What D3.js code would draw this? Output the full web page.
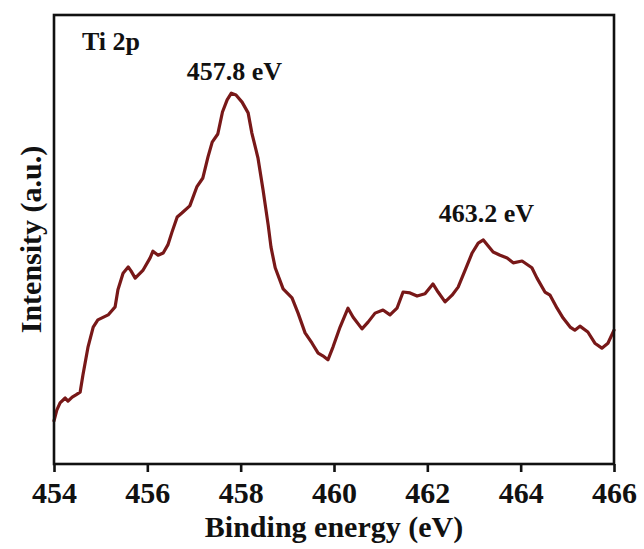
<!DOCTYPE html>
<html>
<head>
<meta charset="utf-8">
<script src="https://cdn.jsdelivr.net/npm/d3@7"></script>
<style>
  html, body { margin: 0; padding: 0; background: #fff; }
  svg { display: block; }
  text { font-family: "Liberation Serif", "Times New Roman", serif; font-weight: bold; fill: #111; }
</style>
</head>
<body>
<svg id="chart" width="644" height="549"></svg>
<script>
// Ti 2p XPS spectrum: binding energy (eV) vs intensity (a.u.)
const bindingEnergy = [
  454.00, 454.06, 454.13, 454.24, 454.30, 454.39, 454.47, 454.56, 454.62, 454.73,
  454.84, 454.94, 455.16, 455.31, 455.37, 455.48, 455.59, 455.65, 455.74, 455.91,
  456.06, 456.12, 456.23, 456.34, 456.44, 456.53, 456.64, 456.74, 456.91, 457.06,
  457.19, 457.30, 457.39, 457.51, 457.61, 457.71, 457.80, 457.90, 458.03, 458.16,
  458.24, 458.37, 458.48, 458.59, 458.65, 458.74, 458.91, 459.10, 459.23, 459.38,
  459.53, 459.66, 459.76, 459.87, 459.98, 460.13, 460.30, 460.41, 460.60, 460.73,
  460.88, 461.05, 461.20, 461.35, 461.48, 461.63, 461.78, 461.95, 462.12, 462.23,
  462.38, 462.53, 462.66, 462.81, 462.96, 463.09, 463.20, 463.30, 463.41, 463.56,
  463.71, 463.84, 464.03, 464.24, 464.35, 464.52, 464.63, 464.78, 464.91, 465.06,
  465.16, 465.27, 465.44, 465.59, 465.74, 465.87, 466.00
];
const intensity = [
   9.6, 12.0, 13.6, 14.7, 14.0, 14.9, 15.4, 16.0, 19.8, 26.1,
  30.5, 32.1, 33.2, 35.0, 38.8, 42.5, 43.9, 43.0, 41.4, 43.2,
  45.9, 47.4, 46.5, 47.0, 48.8, 51.7, 55.0, 55.9, 57.5, 61.7,
  63.7, 68.4, 71.7, 73.5, 78.4, 81.1, 82.6, 82.2, 80.6, 78.2,
  73.7, 68.2, 61.0, 53.2, 48.3, 43.7, 39.0, 37.0, 33.6, 29.2,
  26.9, 24.7, 24.1, 23.2, 26.1, 30.5, 34.7, 32.7, 30.1, 31.6,
  33.6, 34.3, 33.2, 34.7, 38.3, 38.1, 37.4, 37.9, 40.1, 38.3,
  36.1, 37.6, 39.4, 43.2, 47.0, 49.2, 49.9, 48.6, 47.2, 46.5,
  45.9, 44.8, 45.2, 43.7, 41.4, 38.3, 37.6, 34.7, 32.5, 30.5,
  29.8, 30.7, 29.4, 26.9, 25.8, 26.9, 29.8
];
const xTicks = [454, 456, 458, 460, 462, 464, 466];
const peakLabels = ["457.8 eV", "463.2 eV"];
const peakEnergies = [457.8, 463.2];
const panelLabel = "Ti 2p";
const xTitle = "Binding energy (eV)";
const yTitle = "Intensity (a.u.)";

const svg = d3.select("#chart");
const plot = { left: 54, right: 614, top: 15, bottom: 464 };

const x = d3.scaleLinear().domain([454, 466]).range([plot.left, plot.right]);
const y = d3.scaleLinear().domain([0, 100]).range([plot.bottom, plot.top]);

const points = bindingEnergy.map((e, i) => ({ e, v: intensity[i] }));

// spectrum trace
svg.append("path")
  .datum(points)
  .attr("fill", "none")
  .attr("stroke", "#781818")
  .attr("stroke-width", 3.2)
  .attr("stroke-linejoin", "round")
  .attr("stroke-linecap", "round")
  .attr("d", d3.line().x(d => x(d.e)).y(d => y(d.v)));

// frame
svg.append("rect")
  .attr("x", plot.left).attr("y", plot.top)
  .attr("width", plot.right - plot.left)
  .attr("height", plot.bottom - plot.top)
  .attr("fill", "none")
  .attr("stroke", "#111")
  .attr("stroke-width", 2.6);

// bottom axis with outward ticks
const xAxis = svg.append("g")
  .attr("transform", `translate(0,${plot.bottom})`)
  .call(d3.axisBottom(x).tickValues(xTicks).tickFormat(d3.format("d")).tickSize(8).tickSizeOuter(0));
xAxis.select(".domain").remove();
xAxis.selectAll(".tick line").attr("stroke", "#111").attr("stroke-width", 2.6);
xAxis.selectAll(".tick text")
  .attr("y", 39).attr("dy", null)
  .style("font-family", "'Liberation Serif', 'Times New Roman', serif")
  .style("font-weight", "bold")
  .style("font-size", "30px")
  .attr("fill", "#111");

// axis titles
svg.append("text")
  .attr("x", (plot.left + plot.right) / 2 + 0)
  .attr("y", 537)
  .attr("text-anchor", "middle")
  .style("font-size", "30px")
  .text(xTitle);

svg.append("text")
  .attr("transform", `translate(41,${(plot.top + plot.bottom) / 2}) rotate(-90)`)
  .attr("text-anchor", "middle")
  .style("font-size", "30px")
  .text(yTitle);

// panel label
svg.append("text")
  .attr("x", 82).attr("y", 50)
  .style("font-size", "26px")
  .text(panelLabel);

// peak annotations above each maximum
const peakY = [80, 222];
peakLabels.forEach((t, i) => {
  svg.append("text")
    .attr("x", x(peakEnergies[i]) + 3)
    .attr("y", peakY[i])
    .attr("text-anchor", "middle")
    .style("font-size", "26px")
    .text(t);
});
</script>
</body>
</html>
